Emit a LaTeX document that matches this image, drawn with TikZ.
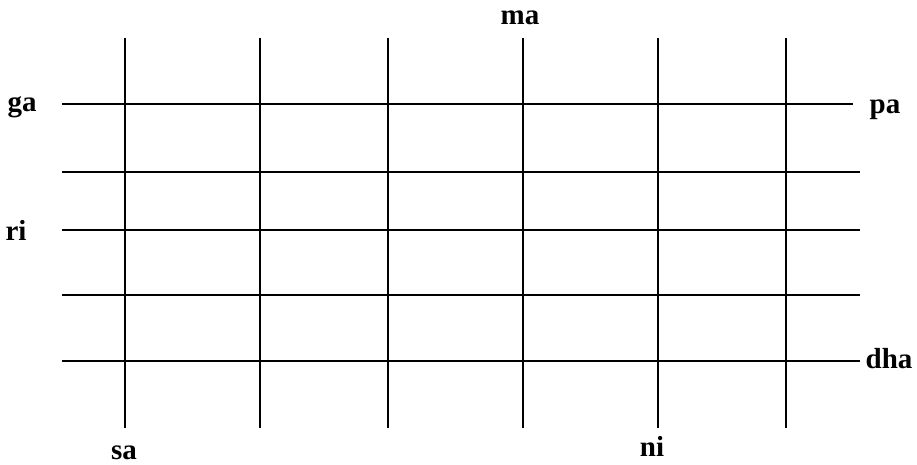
\documentclass[tikz,border=0pt]{standalone}
\usepackage{fontspec}
\setmainfont{Liberation Serif}
\begin{document}
\begin{tikzpicture}[x=1pt,y=-1pt,
  gridline/.style={line width=1.4pt,black},
  lab/.style={font=\fontsize{29}{32}\selectfont\bfseries,inner sep=0pt,anchor=base}]
\useasboundingbox (0,0) rectangle (917,465);
% vertical lines
\foreach \n/\x in {1/125,2/260,3/388,4/523,5/658,6/786}{
  \coordinate (v\n t) at (\x,38);
  \coordinate (v\n b) at (\x,428);
  \draw[gridline] (v\n t) -- (v\n b);
}
% horizontal lines
\coordinate (h1l) at (62,104); \coordinate (h1r) at (853,104);
\coordinate (h2l) at (62,172); \coordinate (h2r) at (860,172);
\coordinate (h3l) at (62,230); \coordinate (h3r) at (860,230);
\coordinate (h4l) at (62,295); \coordinate (h4r) at (860,295);
\coordinate (h5l) at (62,361); \coordinate (h5r) at (860,361);
\foreach \n in {1,...,5}{\draw[gridline] (h\n l) -- (h\n r);}
% labels
\node[lab] (ma)  at (520,25)  {ma};
\node[lab] (ga)  at (22,112)  {ga};
\node[lab] (pa)  at (885,114) {pa};
\node[lab] (ri)  at (16,240)  {ri};
\node[lab] (dha) at (889,368) {dha};
\node[lab] (sa)  at (124,459) {sa};
\node[lab] (ni)  at (652,456) {ni};
\end{tikzpicture}
\end{document}
